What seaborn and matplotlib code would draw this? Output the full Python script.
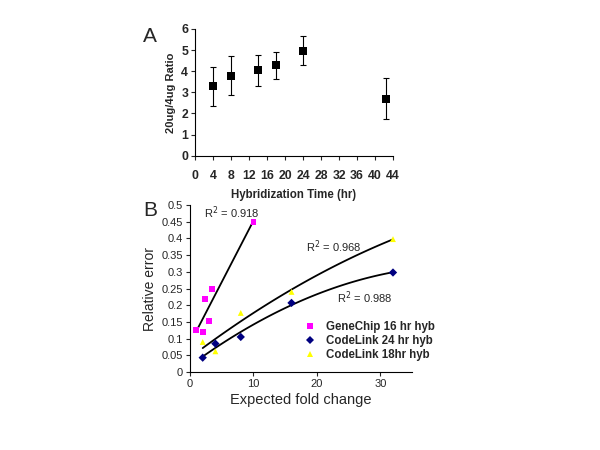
import numpy as np
import pandas as pd
import matplotlib
matplotlib.use("Agg")
import matplotlib.pyplot as plt
import seaborn as sns

# panel A: ratio vs hybridization time
hyb_time = [4, 8, 14, 18, 24, 42.5]
ratio = [3.28, 3.79, 4.04, 4.29, 4.97, 2.70]
ratio_err = [0.92, 0.91, 0.74, 0.64, 0.69, 0.98]

# panel B: relative error vs expected fold change
gc_fold = [1, 2, 2.4, 3, 3.4, 10]
gc_err = [0.125, 0.12, 0.22, 0.152, 0.248, 0.45]
cl24_fold = [2, 4, 8, 16, 32]
cl24_err = [0.043, 0.085, 0.105, 0.207, 0.298]
cl18_fold = [2, 4, 8, 16, 32]
cl18_err = [0.09, 0.062, 0.177, 0.24, 0.398]
series_names = ["GeneChip 16 hr hyb", "CodeLink 24 hr hyb", "CodeLink 18hr hyb"]
r2_text = ["0.918", "0.988", "0.968"]

sns.set_theme(style="ticks")
plt.rcParams['font.family'] = ['Liberation Sans', 'DejaVu Sans']

fig = plt.figure(figsize=(6, 4.5), dpi=100)

# ---- panel A
ax_a = fig.add_axes([0.325, 0.654, 0.33, 0.2816])
ax_a.errorbar(hyb_time, ratio, yerr=ratio_err, fmt='none', ecolor='black',
              elinewidth=0.8, capsize=2.5, capthick=0.8, zorder=2)
sns.scatterplot(x=hyb_time, y=ratio, marker='s', color='black', s=36,
                edgecolor='black', linewidth=0, ax=ax_a, zorder=3)
ax_a.set_xlim(0, 44)
ax_a.set_ylim(0, 6)
ax_a.set_xticks(np.arange(0, 45, 4))
ax_a.set_yticks(np.arange(0, 7, 1))
ax_a.tick_params(axis='x', length=3, width=0.8, pad=7, labelsize=8.8)
ax_a.tick_params(axis='y', length=3, width=0.8, pad=2, labelsize=8.8)
for lab in ax_a.get_xticklabels() + ax_a.get_yticklabels():
    lab.set_fontweight('bold')
ax_a.set_xlabel("Hybridization Time (hr)", fontsize=8.3, fontweight='bold', labelpad=5)
ax_a.set_ylabel("20ug/4ug Ratio", fontsize=8, fontweight='bold', labelpad=4)
sns.despine(ax=ax_a)
for sp in ax_a.spines.values():
    sp.set_linewidth(0.8)
    sp.set_color('black')
fig.text(150 / 600, 1 - 37 / 450, "A", fontsize=15, ha='center', va='center')

# ---- panel B
df = pd.DataFrame({
    "fold": gc_fold + cl24_fold + cl18_fold,
    "err": gc_err + cl24_err + cl18_err,
    "series": [series_names[0]] * len(gc_fold) + [series_names[1]] * len(cl24_fold)
              + [series_names[2]] * len(cl18_fold),
})

ax_b = fig.add_axes([0.3167, 0.1733, 0.37, 0.371])
sns.regplot(x=gc_fold, y=gc_err, order=1, ci=None, scatter=False, ax=ax_b,
            line_kws=dict(color='black', lw=1.3))
sns.regplot(x=cl24_fold, y=cl24_err, order=2, ci=None, scatter=False, ax=ax_b,
            line_kws=dict(color='black', lw=1.3))
sns.regplot(x=cl18_fold, y=cl18_err, order=2, ci=None, scatter=False, ax=ax_b,
            line_kws=dict(color='black', lw=1.3))
sns.scatterplot(data=df, x="fold", y="err", hue="series", style="series",
                palette=['#FF00FF', '#000080', '#FFFF00'],
                markers=['s', 'D', '^'], s=18, linewidth=0, ax=ax_b, zorder=3)
ax_b.set_xlim(0, 35)
ax_b.set_ylim(0, 0.5)
ax_b.set_xticks([0, 10, 20, 30])
ax_b.set_yticks(np.arange(0, 0.51, 0.05))
ax_b.set_yticklabels(['0', '0.05', '0.1', '0.15', '0.2', '0.25', '0.3',
                      '0.35', '0.4', '0.45', '0.5'])
ax_b.tick_params(axis='both', length=3, width=0.8, pad=2, labelsize=8)
ax_b.set_xlabel("Expected fold change", fontsize=10.5, labelpad=3)
ax_b.set_ylabel("Relative error", fontsize=10, labelpad=3)
sns.despine(ax=ax_b)
for sp in ax_b.spines.values():
    sp.set_linewidth(0.8)
    sp.set_color('black')

ax_b.text(2.2, 0.477, "R$^2$ = " + r2_text[0], fontsize=8, va='center')
ax_b.text(18.3, 0.375, "R$^2$ = " + r2_text[2], fontsize=8, va='center')
ax_b.text(23.2, 0.224, "R$^2$ = " + r2_text[1], fontsize=8, va='center')

leg = ax_b.legend(loc='upper left', bbox_to_anchor=(0.493, 0.335), frameon=False,
                  handletextpad=0.87, labelspacing=0.2, borderaxespad=0,
                  prop=dict(weight='bold', size=8.3), handlelength=1.0)
fig.text(150.7 / 600, 1 - 210.7 / 450, "B", fontsize=15, ha='center', va='center')

fig.savefig("out.png", dpi=100)
